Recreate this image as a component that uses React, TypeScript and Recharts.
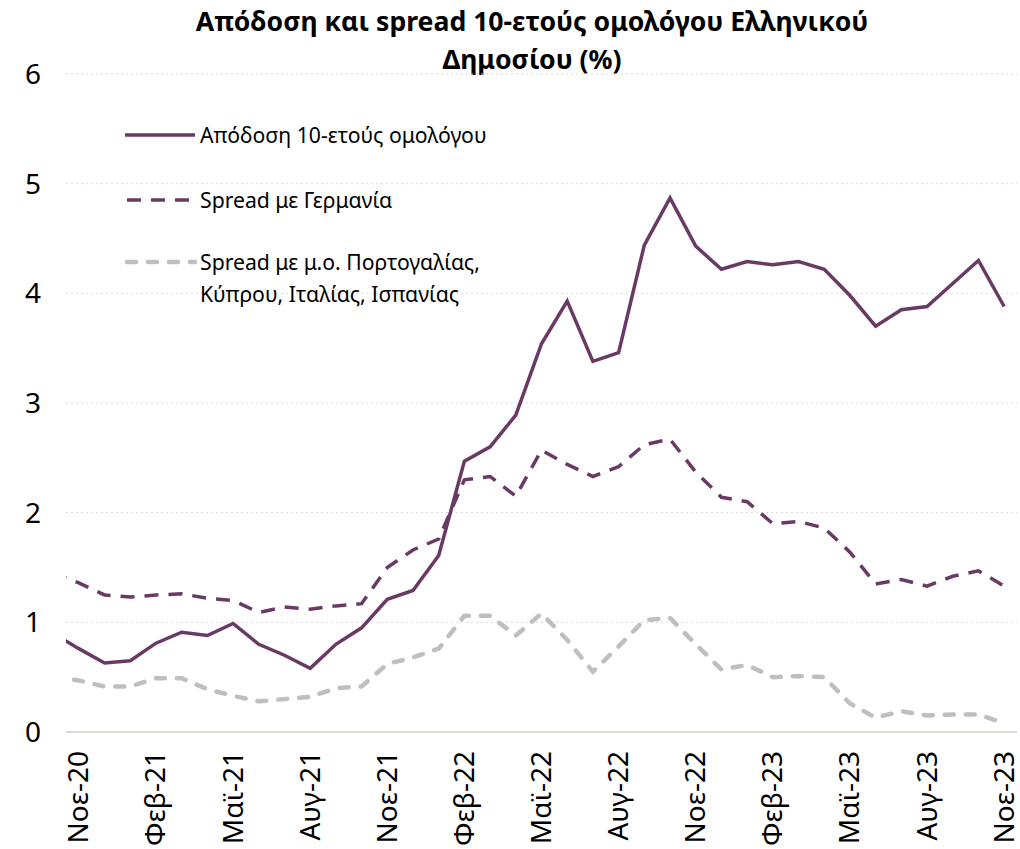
import React from 'react';
import { LineChart, Line, XAxis, YAxis, CartesianGrid } from 'recharts';

// monthly observations, Oct-20 sits just left of the plot and gets clipped
const months = [
  'Οκτ-20', 'Νοε-20', 'Δεκ-20', 'Ιαν-21', 'Φεβ-21', 'Μαρ-21', 'Απρ-21', 'Μαϊ-21', 'Ιουν-21', 'Ιουλ-21',
  'Αυγ-21', 'Σεπ-21', 'Οκτ-21', 'Νοε-21', 'Δεκ-21', 'Ιαν-22', 'Φεβ-22', 'Μαρ-22', 'Απρ-22', 'Μαϊ-22',
  'Ιουν-22', 'Ιουλ-22', 'Αυγ-22', 'Σεπ-22', 'Οκτ-22', 'Νοε-22', 'Δεκ-22', 'Ιαν-23', 'Φεβ-23', 'Μαρ-23',
  'Απρ-23', 'Μαϊ-23', 'Ιουν-23', 'Ιουλ-23', 'Αυγ-23', 'Σεπ-23', 'Οκτ-23', 'Νοε-23',
];

const yieldGR = [
  0.9, 0.76, 0.63, 0.65, 0.81, 0.91, 0.88, 0.99, 0.8, 0.7,
  0.58, 0.8, 0.95, 1.21, 1.29, 1.61, 2.47, 2.6, 2.89, 3.54,
  3.93, 3.38, 3.46, 4.44, 4.87, 4.43, 4.22, 4.29, 4.26, 4.29,
  4.22, 3.98, 3.7, 3.85, 3.88, 4.09, 4.3, 3.88,
];

const spreadDE = [
  1.45, 1.36, 1.25, 1.23, 1.25, 1.26, 1.22, 1.2, 1.09, 1.14,
  1.12, 1.15, 1.17, 1.5, 1.66, 1.76, 2.3, 2.33, 2.15, 2.57,
  2.44, 2.33, 2.42, 2.62, 2.67, 2.37, 2.14, 2.1, 1.9, 1.92,
  1.86, 1.64, 1.35, 1.39, 1.33, 1.42, 1.47, 1.33,
];

const spreadPeers = [
  0.5, 0.47, 0.415, 0.415, 0.49, 0.49, 0.39, 0.33, 0.28, 0.3,
  0.32, 0.4, 0.415, 0.62, 0.68, 0.76, 1.06, 1.06, 0.88, 1.08,
  0.84, 0.55, 0.78, 1.02, 1.04, 0.8, 0.57, 0.61, 0.5, 0.51,
  0.5, 0.26, 0.13, 0.19, 0.15, 0.16, 0.16, 0.08,
];

const xTicks = [1, 4, 7, 10, 13, 16, 19, 22, 25, 28, 31, 34, 37];
const yTicks = [0, 1, 2, 3, 4, 5, 6];

const seriesNames = [
  'Απόδοση 10-ετούς ομολόγου',
  'Spread με Γερμανία',
  'Spread με μ.ο. Πορτογαλίας,',
  'Κύπρου, Ιταλίας, Ισπανίας',
];

const PURPLE = '#693A64';
const GREY = '#BFBFBF';
const FONT = '"Noto Sans", sans-serif';

const data = months.map((m, i) => ({
  idx: i,
  month: m,
  yieldGR: yieldGR[i],
  spreadDE: spreadDE[i],
  spreadPeers: spreadPeers[i],
}));

const XTick = ({ x, payload }: any) => (
  <text
    x={x}
    y={751}
    transform={`rotate(-90, ${x}, 751)`}
    textAnchor="end"
    dy="0.34em"
    fontSize={28}
    fontFamily={FONT}
    fill="#000"
  >
    {months[payload.value]}
  </text>
);

const YTick = ({ y, payload }: any) => (
  <text x={41} y={y} textAnchor="end" dy="0.36em" fontSize={28} fontFamily={FONT} fill="#000">
    {payload.value}
  </text>
);

const LegendBox = () => (
  <div style={{ position: 'absolute', left: 0, top: 0, width: 1020, height: 849, pointerEvents: 'none' }}>
    <svg width={1020} height={849} style={{ position: 'absolute', left: 0, top: 0 }}>
      <line x1={125} x2={195} y1={135} y2={135} stroke={PURPLE} strokeWidth={3.5} />
      <line x1={127} x2={195} y1={200} y2={200} stroke={PURPLE} strokeWidth={3.5} strokeDasharray="14 10" />
      <line x1={127} x2={195} y1={262} y2={262} stroke={GREY} strokeWidth={4.5} strokeDasharray="9 12" strokeLinecap="round" />
      {[
        { t: seriesNames[0], y: 135 },
        { t: seriesNames[1], y: 200 },
        { t: seriesNames[2], y: 262 },
        { t: seriesNames[3], y: 294 },
      ].map((r) => (
        <text key={r.t} x={200} y={r.y} dy="0.36em" fontSize={21.2} fontFamily={FONT} fill="#000">
          {r.t}
        </text>
      ))}
    </svg>
  </div>
);

export default function App() {
  return (
    <div style={{ position: 'relative', width: 1020, height: 849, background: '#fff' }}>
      <style>{`body{margin:0}`}</style>
      <div
        style={{
          position: 'absolute',
          left: 0,
          width: 1064,
          top: 2,
          textAlign: 'center',
          fontFamily: FONT,
          fontWeight: 700,
          fontSize: 26.6,
          lineHeight: '38px',
          color: '#000',
        }}
      >
        Απόδοση και spread 10-ετούς ομολόγου Ελληνικού
        <br />
        Δημοσίου (%)
      </div>
      <LineChart
        width={1020}
        height={849}
        data={data}
        margin={{ top: 74, right: 3, left: 0, bottom: 17 }}
        style={{ position: 'absolute', left: 0, top: 0 }}
      >
        <CartesianGrid vertical={false} stroke="#D9D9D9" strokeDasharray="2 3" />
        <XAxis
          dataKey="idx"
          type="number"
          domain={[0.5, 37.5]}
          allowDataOverflow
          ticks={xTicks}
          interval={0}
          height={100}
          tickLine={false}
          axisLine={{ stroke: '#DDD9D0', strokeWidth: 2 }}
          tick={<XTick />}
        />
        <YAxis
          type="number"
          domain={[0, 6]}
          ticks={yTicks}
          width={66}
          axisLine={false}
          tickLine={false}
          tick={<YTick />}
        />
        <Line
          dataKey="spreadPeers"
          stroke={GREY}
          strokeWidth={4.5}
          strokeDasharray="9 12"
          strokeLinecap="round"
          dot={false}
          isAnimationActive={false}
        />
        <Line
          dataKey="spreadDE"
          stroke={PURPLE}
          strokeWidth={3.5}
          strokeDasharray="14 10"
          dot={false}
          isAnimationActive={false}
        />
        <Line
          dataKey="yieldGR"
          stroke={PURPLE}
          strokeWidth={3.5}
          dot={false}
          isAnimationActive={false}
        />
      </LineChart>
      <LegendBox />
    </div>
  );
}
